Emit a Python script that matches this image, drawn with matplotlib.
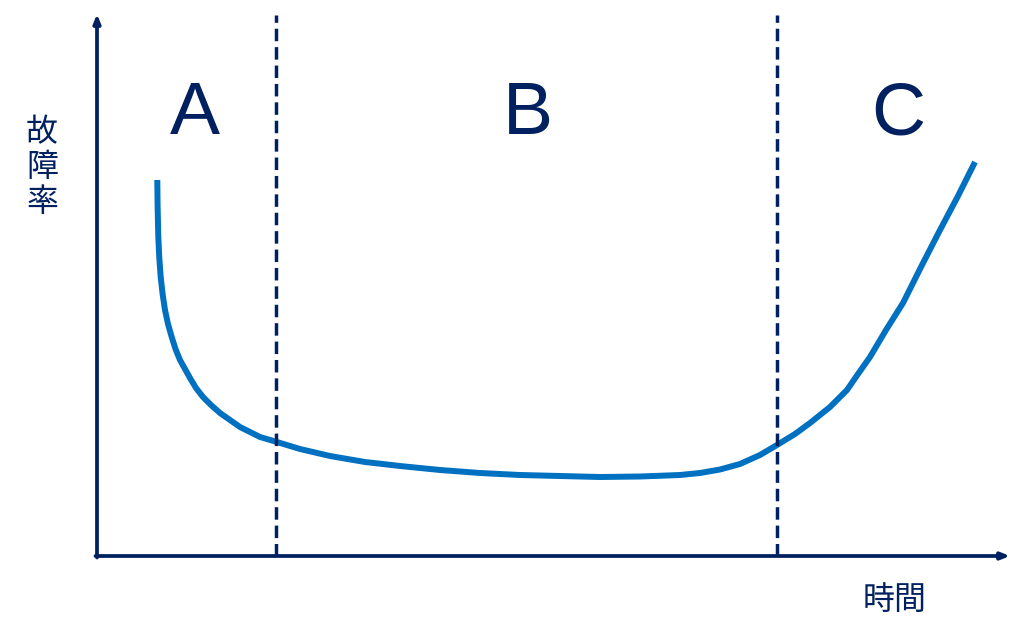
import matplotlib.pyplot as plt

plt.rcParams['font.family'] = ['Noto Sans CJK JP', 'DejaVu Sans']

navy = '#002060'
blue = '#0070C0'

# bathtub curve (time, failure rate)
time = [60.3, 60.6, 61.3, 62.3, 63.7, 65.6, 68, 71, 74.7, 78.5, 83, 88, 93, 99, 106,
        114, 123, 133, 143, 153, 163, 180, 203, 233, 268, 303, 343, 383, 423, 463,
        503, 543, 583, 603, 623, 643, 663, 680, 698, 713, 733, 750, 761, 773, 789,
        806, 824, 843, 861, 878]
rate = [376, 350, 319, 298, 279, 262, 246, 232, 219, 207, 196, 187, 178, 168, 159,
        151, 143, 136, 129, 124, 119, 114, 107, 100, 94, 90, 86, 83, 81, 80,
        79, 79.5, 81, 83, 86.5, 92, 101, 111, 122, 133, 149, 166, 182, 199, 226,
        253, 289, 326, 360, 394]
boundaries = [179, 680]
regions = ['A', 'B', 'C']
region_x = [98, 431, 801]
ylabel_chars = ['故', '障', '率']

fig = plt.figure(figsize=(10.24, 6.41), dpi=100)
ax = fig.add_axes([97 / 1024, 85 / 641, 913 / 1024, 542 / 641])
ax.set_xlim(0, 913)
ax.set_ylim(0, 542)
ax.axis('off')

ax.plot(time, rate, color=blue, lw=4.3, solid_capstyle='butt', solid_joinstyle='round')

for b in boundaries:
    ax.plot([b, b], [0, 541], color=navy, lw=2.5, linestyle=(0, (3.6, 1.7)))

arrow = dict(arrowstyle='-|>,head_length=0.5,head_width=0.2',
             color=navy, lw=2.7, shrinkA=0, shrinkB=0)
ax.annotate('', xy=(0, 542), xytext=(0, -1.5), arrowprops=arrow)
ax.annotate('', xy=(913, 0), xytext=(-1.5, 0), arrowprops=arrow)

for lab, x in zip(regions, region_x):
    ax.text(x, 441, lab, color=navy, fontsize=54, ha='center', va='center',
            family=['Liberation Sans', 'DejaVu Sans'])

for i, ch in enumerate(ylabel_chars):
    fig.text(42 / 1024, 1 - (132 + 35 * i) / 641, ch, color=navy, fontsize=23,
             ha='center', va='center')
fig.text(895 / 1024, 1 - 600 / 641, '時間', color=navy, fontsize=23,
         ha='center', va='center')

fig.savefig('out.png', dpi=100)
